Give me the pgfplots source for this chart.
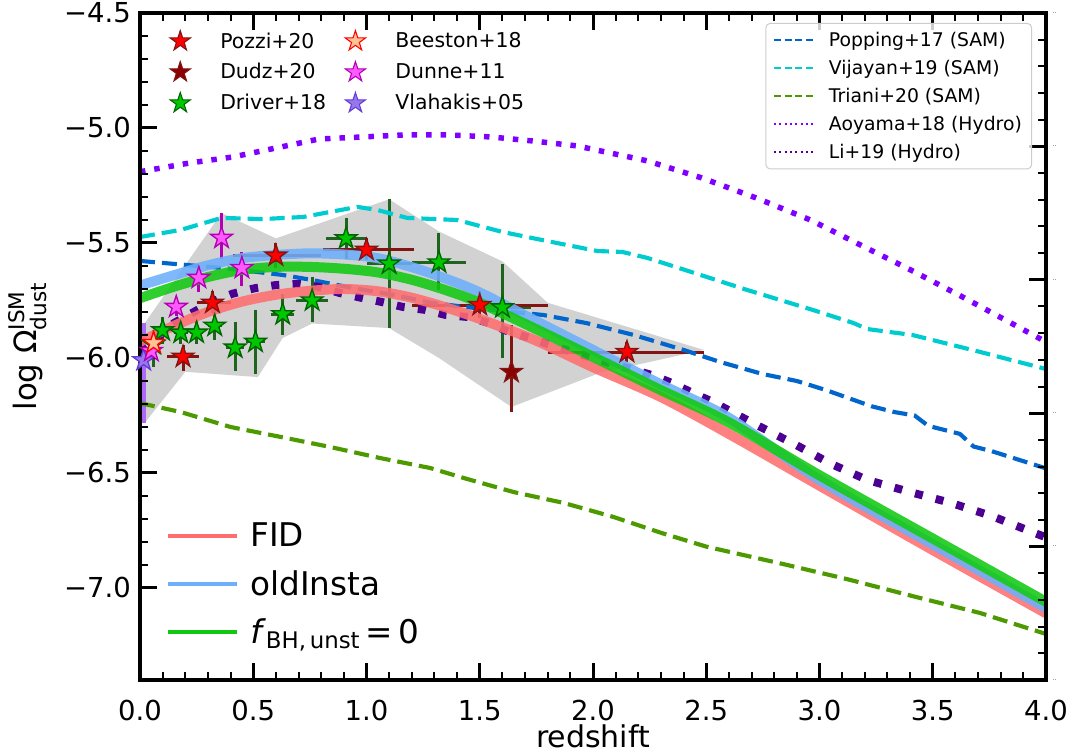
\documentclass[border=0pt]{standalone}
\usepackage{pgfplots}
\pgfplotsset{compat=1.18}
\usepackage{amsmath}
\usepackage{fontspec}
\setmainfont{DejaVu Sans}

\definecolor{popblue}{RGB}{0,102,204}
\definecolor{vijcyan}{RGB}{0,204,208}
\definecolor{trigreen}{RGB}{77,153,0}
\definecolor{aoyviolet}{RGB}{127,0,255}
\definecolor{liindigo}{RGB}{75,0,145}
\definecolor{fidred}{RGB}{255,110,110}
\definecolor{oldblue}{RGB}{110,175,250}
\definecolor{fbhgreen}{RGB}{17,200,17}
\definecolor{bandgray}{RGB}{210,210,210}
\definecolor{drvfill}{RGB}{0,200,0}
\definecolor{drvedge}{RGB}{0,100,0}
\definecolor{drverr}{RGB}{30,100,30}
\definecolor{pozerr}{RGB}{130,20,20}
\definecolor{dudzfill}{RGB}{139,0,0}
\definecolor{beefill}{RGB}{255,195,145}
\definecolor{dunfill}{RGB}{255,90,255}
\definecolor{dunedge}{RGB}{180,0,180}
\definecolor{vlafill}{RGB}{150,120,235}
\definecolor{vlaedge}{RGB}{100,60,215}
\definecolor{vlabar}{RGB}{172,105,245}
\definecolor{framegray}{RGB}{204,204,204}

% filled five-pointed star, like matplotlib's '*'
\pgfdeclareplotmark{fstar}{%
  \pgfpathmoveto{\pgfpointpolar{90}{\pgfplotmarksize}}%
  \pgfpathlineto{\pgfpointpolar{126}{0.382\pgfplotmarksize}}%
  \pgfpathlineto{\pgfpointpolar{162}{\pgfplotmarksize}}%
  \pgfpathlineto{\pgfpointpolar{198}{0.382\pgfplotmarksize}}%
  \pgfpathlineto{\pgfpointpolar{234}{\pgfplotmarksize}}%
  \pgfpathlineto{\pgfpointpolar{270}{0.382\pgfplotmarksize}}%
  \pgfpathlineto{\pgfpointpolar{306}{\pgfplotmarksize}}%
  \pgfpathlineto{\pgfpointpolar{342}{0.382\pgfplotmarksize}}%
  \pgfpathlineto{\pgfpointpolar{18}{\pgfplotmarksize}}%
  \pgfpathlineto{\pgfpointpolar{54}{0.382\pgfplotmarksize}}%
  \pgfpathclose
  \pgfusepathqfillstroke
}

\pgfplotsset{
  frame/.style={
    at={(0pt,0pt)}, anchor=south west,
    scale only axis, width=679.5pt, height=500.25pt,
  },
  obs/.style={only marks, mark=fstar, mark size=8.6pt,
    mark options={line width=1pt, line join=miter}},
}

\begin{document}
\begin{tikzpicture}
\useasboundingbox (-105pt,-56.25pt) rectangle (700.5pt,510pt);

\begin{axis}[
  frame,
  xmin=0, xmax=4, ymin=-7.4, ymax=-4.5,
  axis on top,
  xtick={0,0.5,1,1.5,2,2.5,3,3.5,4},
  xticklabels={0.0,0.5,1.0,1.5,2.0,2.5,3.0,3.5,4.0},
  ytick={-7,-6.5,-6,-5.5,-5,-4.5},
  yticklabels={−7.0,−6.5,−6.0,−5.5,−5.0,−4.5},
  minor x tick num=4, minor y tick num=4,
  xtick pos=both, ytick pos=left,
  tick align=inside,
  major tick length=12.75pt, minor tick length=6.25pt,
  every major tick/.append style={line width=2.25pt, black},
  every minor tick/.append style={line width=1.5pt, black},
  axis line style={line width=2.4pt},
  tick label style={font=\fontsize{20.6}{24}\selectfont},
  xticklabel style={anchor=center, inner sep=0pt, yshift=-23pt},
  yticklabel style={anchor=east, inner sep=0pt, xshift=-6.75pt},
  xlabel={redshift},
  ylabel={log Ω$^{\text{ISM}}_{\text{dust}}$},
  every axis x label/.style={at={(axis description cs:0.5,-0.085)}, anchor=center,
    inner sep=0pt, font=\fontsize{22.5}{25}\selectfont},
  every axis y label/.style={at={(axis description cs:-0.1236,0.5)}, anchor=center, rotate=90,
    font=\fontsize{23.1}{26}\selectfont},
  legend style={at={(0,0)}, anchor=south west, xshift=19.5pt, yshift=18pt,
    draw=none, fill=none, inner sep=0pt,
    font=\fontsize{24.5}{28}\selectfont},
  legend cell align=left,
  legend image code/.code={%
    \path[draw=none, fill=none] (0pt,-18pt) rectangle (59.5pt,18pt);
    \draw[#1, opacity=1, line width=3pt] (0pt,0pt) -- (51.75pt,0pt);},
]

% observational range
\addplot[fill=bandgray, draw=none, forget plot] coordinates {
  (0.02,-5.85) (0.36,-5.37) (0.60,-5.48) (1.10,-5.31) (1.32,-5.45)
  (1.60,-5.58) (1.80,-5.76) (2.49,-5.965) (2.03,-6.065) (1.64,-6.213)
  (1.32,-6.00) (1.10,-5.87) (0.76,-5.85) (0.63,-5.913) (0.52,-6.083)
  (0.20,-6.06) (0.02,-6.283)
} -- cycle;

% Vlahakis+05
\addplot[obs, draw=vlaedge, fill=vlafill, forget plot,
  error bars/.cd, y dir=both, y explicit,
  error bar style={line width=3.75pt, color=vlabar}, error mark=none]
  coordinates { (0.016,-6.01) += (0,0.162) -= (0,0.273) };

% Driver+18
\addplot[obs, draw=drvedge, fill=drvfill, forget plot,
  error bars/.cd, x dir=both, x explicit, y dir=both, y explicit,
  error bar style={line width=2.25pt, color=drverr}, error mark=none]
  coordinates {
  (0.06,-5.94) += (0.02,0.06) -= (0.02,0.10)
  (0.10,-5.88) += (0.02,0.06) -= (0.02,0.06)
  (0.18,-5.89) += (0.03,0.05) -= (0.03,0.05)
  (0.25,-5.89) += (0.03,0.05) -= (0.03,0.05)
  (0.33,-5.86) += (0.03,0.07) -= (0.03,0.06)
  (0.42,-5.955) += (0.04,0.11) -= (0.04,0.10)
  (0.51,-5.93) += (0.04,0.14) -= (0.04,0.14)
  (0.63,-5.81) += (0.05,0.09) -= (0.05,0.09)
  (0.76,-5.75) += (0.07,0.10) -= (0.07,0.095)
  (0.91,-5.48) += (0.09,0.09) -= (0.09,0.09)
  (1.10,-5.59) += (0.10,0.28) -= (0.10,0.28)
  (1.32,-5.585) += (0.12,0.13) -= (0.12,0.12)
  (1.60,-5.78) += (0.125,0.19) -= (0.125,0.22)
};

% Dunne+11
\addplot[obs, draw=dunedge, fill=dunfill, forget plot,
  error bars/.cd, y dir=both, y explicit,
  error bar style={line width=2.25pt, color=dunedge}, error mark=none]
  coordinates {
  (0.05,-5.97) +- (0,0.04)
  (0.16,-5.778) +- (0,0.04)
  (0.26,-5.652) += (0,0.05) -= (0,0.06)
  (0.36,-5.478) += (0,0.11) -= (0,0.09)
  (0.45,-5.609) += (0,0.07) -= (0,0.08)
};

% Beeston+18
\addplot[obs, draw=red, fill=beefill, forget plot,
  error bars/.cd, x dir=both, x explicit, y dir=both, y explicit,
  error bar style={line width=1pt, color=red}, error mark=none]
  coordinates { (0.06,-5.935) +- (0.03,0.04) };

% Pozzi+20
\addplot[obs, draw=pozerr, fill=red, forget plot,
  error bars/.cd, x dir=both, x explicit, y dir=both, y explicit,
  error bar style={line width=2.25pt, color=pozerr}, error mark=none]
  coordinates {
  (0.19,-5.995) += (0.07,0.05) -= (0.07,0.06)
  (0.32,-5.76) += (0.08,0.05) -= (0.07,0.045)
  (0.60,-5.555) += (0.20,0.055) -= (0.19,0.055)
  (1.00,-5.53) += (0.21,0.05) -= (0.19,0.045)
  (1.50,-5.77) += (0.30,0.06) -= (0.30,0.055)
  (2.15,-5.974) += (0.34,0.045) -= (0.35,0.045)
};

% Dudz+20
\addplot[obs, draw=pozerr, fill=dudzfill, forget plot,
  error bars/.cd, y dir=both, y explicit,
  error bar style={line width=2.25pt, color=pozerr}, error mark=none]
  coordinates { (1.64,-6.061) += (0,0.204) -= (0,0.174) };

% Popping+17 (SAM)
\addplot[popblue, line width=3.1pt, dash pattern=on 11.25pt off 5.25pt, forget plot]
  coordinates {
  (0.00,-5.578) (0.21,-5.596) (0.37,-5.609) (0.63,-5.639) (0.76,-5.661)
  (0.94,-5.696) (1.12,-5.726) (1.29,-5.761) (1.50,-5.785) (1.78,-5.813)
  (1.97,-5.848) (2.18,-5.900) (2.40,-5.965) (2.56,-6.017) (2.75,-6.07)
  (2.90,-6.10) (3.03,-6.14) (3.23,-6.21) (3.33,-6.235) (3.42,-6.25)
  (3.48,-6.295) (3.56,-6.315) (3.62,-6.33) (3.68,-6.385) (3.76,-6.405)
  (4.00,-6.48)
};

% Vijayan+19 (SAM)
\addplot[vijcyan, line width=3.1pt, dash pattern=on 11.25pt off 5.25pt, forget plot]
  coordinates {
  (0.00,-5.474) (0.18,-5.443) (0.36,-5.391) (0.54,-5.396) (0.72,-5.387)
  (0.96,-5.343) (1.05,-5.357) (1.18,-5.391) (1.40,-5.400) (1.60,-5.452)
  (1.84,-5.500) (2.02,-5.535) (2.13,-5.539) (2.24,-5.565) (2.38,-5.609)
  (2.68,-5.704) (2.97,-5.791) (3.15,-5.848) (3.21,-5.874) (3.41,-5.900)
  (3.71,-5.974) (4.00,-6.048)
};

% Triani+20 (SAM)
\addplot[trigreen, line width=3.1pt, dash pattern=on 11.25pt off 5.25pt, forget plot]
  coordinates {
  (0.00,-6.196) (0.18,-6.235) (0.40,-6.300) (0.62,-6.343) (0.84,-6.387)
  (1.06,-6.435) (1.28,-6.478) (1.43,-6.522) (1.65,-6.583) (1.87,-6.630)
  (2.09,-6.691) (2.30,-6.76) (2.50,-6.82) (2.84,-6.896) (3.12,-6.961)
  (3.41,-7.035) (3.71,-7.109) (4.00,-7.20)
};

% Aoyama+18 (Hydro)
\addplot[aoyviolet, line width=4.1pt, line cap=butt, dash pattern=on 4.1pt off 6.75pt, forget plot]
  coordinates {
  (0.00,-5.19) (0.22,-5.152) (0.41,-5.126) (0.60,-5.087) (0.79,-5.048)
  (0.98,-5.039) (1.17,-5.030) (1.36,-5.030) (1.55,-5.039) (1.74,-5.057)
  (1.93,-5.078) (2.24,-5.143) (2.48,-5.217) (2.72,-5.304) (2.96,-5.400)
  (3.19,-5.513) (3.42,-5.626) (3.64,-5.739) (3.87,-5.861) (4.00,-5.93)
};

% Li+19 (Hydro)
\addplot[liindigo, line width=6pt, line cap=butt, dash pattern=on 6pt off 10pt, forget plot]
  coordinates {
  (0.00,-5.97) (0.09,-5.90) (0.15,-5.848) (0.23,-5.804) (0.32,-5.755)
  (0.41,-5.720) (0.51,-5.696) (0.60,-5.683) (0.70,-5.678) (0.79,-5.691)
  (0.88,-5.717) (0.98,-5.739) (1.07,-5.757) (1.16,-5.778) (1.26,-5.791)
  (1.35,-5.813) (1.45,-5.822) (1.54,-5.848) (1.63,-5.887) (1.72,-5.913)
  (1.81,-5.943) (1.91,-5.974) (2.10,-6.03) (2.26,-6.074) (2.35,-6.109)
  (2.44,-6.152) (2.53,-6.191) (2.70,-6.28) (2.90,-6.38) (3.05,-6.46)
  (3.21,-6.530) (3.40,-6.583) (3.58,-6.630) (3.76,-6.687) (3.94,-6.757)
  (4.00,-6.78)
};

% model runs
\addplot[fidred, line width=7.5pt, opacity=0.88, smooth] coordinates {
  (0.00,-5.93) (0.15,-5.86) (0.30,-5.80) (0.45,-5.755) (0.60,-5.725)
  (0.75,-5.708) (0.90,-5.700) (1.05,-5.710) (1.20,-5.738) (1.35,-5.78)
  (1.50,-5.83) (1.75,-5.925) (2.00,-6.04) (2.30,-6.17) (2.60,-6.33)
  (3.00,-6.555) (3.50,-6.835) (4.00,-7.11)
};
\addlegendentry{FID}
\addplot[oldblue, line width=7.5pt, opacity=0.88, smooth] coordinates {
  (0.00,-5.685) (0.15,-5.64) (0.30,-5.597) (0.45,-5.566) (0.60,-5.552)
  (0.75,-5.545) (0.90,-5.550) (1.05,-5.566) (1.20,-5.605) (1.35,-5.655)
  (1.50,-5.715) (1.75,-5.84) (2.00,-5.965) (2.30,-6.115) (2.60,-6.26)
  (3.00,-6.53) (3.50,-6.81) (4.00,-7.087)
};
\addlegendentry{oldInsta}
\addplot[fbhgreen, line width=7.5pt, opacity=0.88, smooth] coordinates {
  (0.00,-5.74) (0.15,-5.69) (0.30,-5.648) (0.45,-5.617) (0.60,-5.604)
  (0.75,-5.604) (0.90,-5.612) (1.05,-5.628) (1.20,-5.66) (1.35,-5.705)
  (1.50,-5.76) (1.75,-5.875) (2.00,-5.995) (2.30,-6.14) (2.60,-6.28)
  (3.00,-6.51) (3.50,-6.785) (4.00,-7.06)
};
\addlegendentry{\textit{f}$_{\text{BH,\,unst}}$\,=\,0}
\end{axis}

% right-hand ticks of the twin axis
\begin{axis}[
  frame,
  xmin=0, xmax=1, ymin=0, ymax=5,
  axis x line=none, axis y line*=right,
  ytick={0,1,2,3,4,5},
  yticklabels={..,..,..,..,..,..},
  minor y tick num=4,
  tick align=inside,
  major tick length=12.75pt, minor tick length=6.25pt,
  every major tick/.append style={line width=2.25pt, black},
  every minor tick/.append style={line width=1.5pt, black},
  axis line style={line width=2.4pt},
  yticklabel style={font=\fontsize{4}{4}\selectfont, anchor=west, inner sep=0pt, xshift=5pt},
]
\addplot[draw=none, forget plot] coordinates {(0,0)};
\end{axis}

% legend of observations
\begin{axis}[
  frame, hide axis,
  xmin=0, xmax=1, ymin=0, ymax=1,
  legend columns=2,
  legend style={at={(0,1)}, anchor=north west, xshift=18pt, yshift=-9.4pt,
    draw=none, fill=none, inner sep=0pt,
    font=\fontsize{15.3}{17}\selectfont,
    /tikz/every even column/.append style={column sep=8pt}},
  legend cell align=left,
  legend image code/.code={%
    \path[draw=none, fill=none] (0pt,-11.6pt) rectangle (40pt,11.6pt);
    \draw[#1] plot coordinates {(12pt,0pt)};},
]
\addplot[draw=none, forget plot] coordinates {(0,0)};
\addlegendimage{only marks, mark=fstar, mark size=8pt, draw=pozerr, fill=red, mark options={line width=0.8pt}}
\addlegendentry{Pozzi+20}
\addlegendimage{only marks, mark=fstar, mark size=8pt, draw=red, fill=beefill, mark options={line width=0.8pt}}
\addlegendentry{Beeston+18}
\addlegendimage{only marks, mark=fstar, mark size=8pt, draw=pozerr, fill=dudzfill, mark options={line width=0.8pt}}
\addlegendentry{Dudz+20}
\addlegendimage{only marks, mark=fstar, mark size=8pt, draw=dunedge, fill=dunfill, mark options={line width=0.8pt}}
\addlegendentry{Dunne+11}
\addlegendimage{only marks, mark=fstar, mark size=8pt, draw=drvedge, fill=drvfill, mark options={line width=0.8pt}}
\addlegendentry{Driver+18}
\addlegendimage{only marks, mark=fstar, mark size=8pt, draw=vlaedge, fill=vlafill, mark options={line width=0.8pt}}
\addlegendentry{Vlahakis+05}
\end{axis}

% legend of other models
\begin{axis}[
  frame, hide axis,
  xmin=0, xmax=1, ymin=0, ymax=1,
  legend style={at={(1,1)}, anchor=north east, xshift=-10.5pt, yshift=-7.5pt,
    draw=framegray, line width=0.75pt, rounded corners=3pt,
    fill=white, fill opacity=0.8, text opacity=1,
    inner xsep=5.25pt, inner ysep=2pt,
    font=\fontsize{14.1}{16}\selectfont},
  legend cell align=left,
  legend image code/.code={%
    \path[draw=none, fill=none] (0pt,-10.5pt) rectangle (39.25pt,10.5pt);
    \draw[#1] (0pt,0pt) -- (29.25pt,0pt);},
]
\addplot[draw=none, forget plot] coordinates {(0,0)};
\addlegendimage{popblue, line width=1.5pt, dash pattern=on 5.5pt off 2.4pt}
\addlegendentry{Popping+17 (SAM)}
\addlegendimage{vijcyan, line width=1.5pt, dash pattern=on 5.5pt off 2.4pt}
\addlegendentry{Vijayan+19 (SAM)}
\addlegendimage{trigreen, line width=1.5pt, dash pattern=on 5.5pt off 2.4pt}
\addlegendentry{Triani+20 (SAM)}
\addlegendimage{aoyviolet, line width=1.5pt, line cap=butt, dash pattern=on 1.5pt off 2.5pt}
\addlegendentry{Aoyama+18 (Hydro)}
\addlegendimage{liindigo, line width=1.5pt, line cap=butt, dash pattern=on 1.5pt off 2.5pt}
\addlegendentry{Li+19 (Hydro)}
\end{axis}
\end{tikzpicture}
\end{document}
